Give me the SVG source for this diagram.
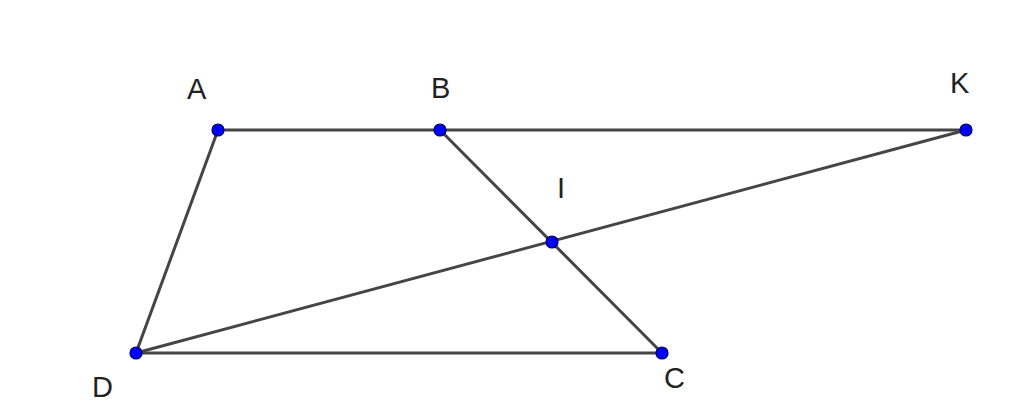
<svg xmlns="http://www.w3.org/2000/svg" width="1024" height="419" viewBox="0 0 1024 419">
<style>
.seg{stroke:#454545;stroke-width:3;fill:none;stroke-linecap:round}
.pt{fill:#0000ff;stroke:#00005a;stroke-width:1.2}
.lbl{font-family:"Liberation Sans",Arial,sans-serif;font-size:29px;fill:#222}
</style>
<rect width="1024" height="419" fill="#fff"/>
<g id="connectors">
<line class="seg" x1="218" y1="130" x2="966" y2="130"/>
<line class="seg" x1="218" y1="130" x2="136" y2="353"/>
<line class="seg" x1="136" y1="353" x2="662" y2="353"/>
<line class="seg" x1="440" y1="130" x2="662" y2="353"/>
<line class="seg" x1="136" y1="353" x2="966" y2="130"/>
</g>
<g id="A"><circle class="pt" cx="218" cy="130" r="6"/><text class="lbl" x="187" y="99">A</text></g>
<g id="B"><circle class="pt" cx="440" cy="130" r="6"/><text class="lbl" x="431" y="98">B</text></g>
<g id="K"><circle class="pt" cx="966" cy="130" r="6"/><text class="lbl" x="950" y="93">K</text></g>
<g id="I"><circle class="pt" cx="552" cy="242" r="6"/><text class="lbl" x="557" y="198">I</text></g>
<g id="D"><circle class="pt" cx="136" cy="353" r="6"/><text class="lbl" x="92" y="397">D</text></g>
<g id="C"><circle class="pt" cx="662" cy="353" r="6"/><text class="lbl" x="664" y="388">C</text></g>
</svg>
